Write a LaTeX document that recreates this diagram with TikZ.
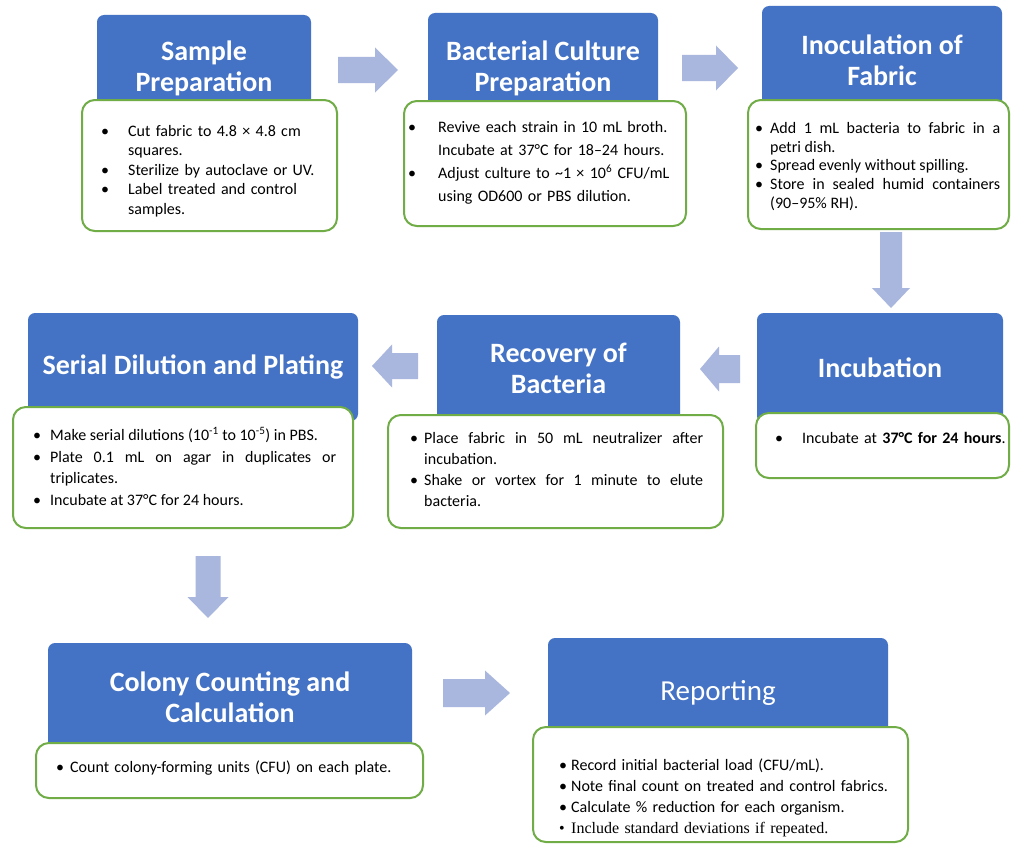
\documentclass[tikz,border=0pt]{standalone}
\usepackage{fontspec}
\setmainfont{Carlito}
\newfontfamily\timesFont{Liberation Serif}
\usetikzlibrary{positioning}
\tikzstyle{sheet} = [x = 1pt, y = -1pt]
\definecolor{titleColor}{RGB}{68,114,196}
\definecolor{frameColor}{RGB}{112,173,71}
\definecolor{arrowColor}{RGB}{169,182,222}
\tikzstyle{titleStyle} = [fill=titleColor, rounded corners=.25cm, inner sep=0pt, text=white, align=center, font=\fontsize{28}{31}\selectfont\bfseries]
\tikzstyle{frameStyle} = [draw=frameColor, fill=white, line width=2pt, rounded corners=.45cm, inner sep=0pt]
\tikzstyle{listText} = [anchor=north west, inner sep=0pt, font=\fontsize{16}{19.5}\selectfont]
\tikzstyle{flowArrow} = [fill=arrowColor]
\newcommand{\titleBox}[6]{\node [titleStyle, minimum width=#4-#2, minimum height=#5-#3] (#1) at ({(#2+#4)/2}, {(#3+#5)/2}) {#6};}
\newcommand{\frameBox}[5]{\node [frameStyle, minimum width=#4-#2, minimum height=#5-#3] (#1) at ({(#2+#4)/2}, {(#3+#5)/2}) {};}
\newcommand{\listItem}[2]{\noindent\hangindent=#1pt\hangafter=1\makebox[#1pt][l]{\textbullet}#2\par}
% tail x, tail y, angle, length, half shaft, half head, head length
\newcommand{\blockArrow}[7]{\fill [flowArrow, shift={(#1,#2)}, rotate=#3] (0,-#5) -- (#4-#7,-#5) -- (#4-#7,-#6) -- (#4,0) -- (#4-#7,#6) -- (#4-#7,#5) -- (0,#5) -- cycle;}

\begin{document}
\begin{tikzpicture}[sheet]
  \fill [white] (0,0) rectangle (1011,843);
  \useasboundingbox (0,0) rectangle (1011,843);

  % titles
  \titleBox{sampleTitle}{97}{15}{311}{121}{Sample\\Preparation}
  \titleBox{cultureTitle}{428}{13}{658}{123}{Bacterial Culture\\Preparation}
  \titleBox{inoculationTitle}{762}{6}{1002}{114}{Inoculation of\\Fabric}
  \titleBox{incubationTitle}{757}{313}{1003}{423}{Incubation}
  \titleBox{recoveryTitle}{437}{315}{680}{421}{Recovery of\\Bacteria}
  \titleBox{dilutionTitle}{28}{313}{358}{421}{Serial Dilution and Plating}
  \titleBox{countingTitle}{48}{643}{412}{751}{Colony Counting and\\Calculation}
  \titleBox{reportingTitle}{548}{638}{888}{748}{\mdseries\fontsize{29}{31}\selectfont Reporting}

  % frames
  \frameBox{sampleFrame}{82}{100}{337}{231}
  \frameBox{cultureFrame}{404}{101}{686}{226}
  \frameBox{inoculationFrame}{748}{100}{1009}{229}
  \frameBox{incubationFrame}{756}{413}{1009}{478}
  \frameBox{recoveryFrame}{388}{415}{723}{528}
  \frameBox{dilutionFrame}{13}{407}{353}{528}
  \frameBox{countingFrame}{36}{743}{423}{798}
  \frameBox{reportingFrame}{533}{727}{908}{842}

  % lists
  \node [listText, text width=230pt, align=left] (sampleList) at (101,125)
    {\listItem{27}{Cut fabric to 4.8 × 4.8 cm\newline squares.}\listItem{27}{Sterilize by autoclave or UV.}\listItem{27}{Label treated and control\newline samples.}};
  \node [listText, text width=270pt, align=left, font=\fontsize{16}{23}\selectfont] (cultureList) at (408,121)
    {\listItem{30}{Revive each strain in 10 mL broth.\newline Incubate at 37°C for 18--24 hours.}\listItem{30}{Adjust culture to \textasciitilde1 × 10\textsuperscript{6} CFU/mL\newline using OD600 or PBS dilution.}};
  \node [listText, text width=245pt, align=justify, font=\fontsize{16}{18.7}\selectfont] (inoculationList) at (755,122)
    {\listItem{15}{Add 1 mL bacteria to fabric in a\linebreak petri dish.}\listItem{15}{Spread evenly without spilling.}\listItem{15}{Store in sealed humid containers\linebreak (90--95\% RH).}};
  \node [listText, text width=260pt, align=left] (incubationList) at (775,432)
    {\listItem{27}{Incubate at \textbf{37°C for 24 hours}.}};
  \node [listText, text width=293pt, align=justify, font=\fontsize{16}{21}\selectfont] (recoveryList) at (410,432)
    {\listItem{14}{Place fabric in 50 mL neutralizer after\linebreak incubation.}\listItem{14}{Shake or vortex for 1 minute to elute\linebreak bacteria.}};
  \node [listText, text width=303pt, align=justify, font=\fontsize{16}{21.5}\selectfont] (dilutionList) at (33,427)
    {\listItem{17}{Make serial dilutions (10\textsuperscript{-1} to 10\textsuperscript{-5}) in PBS.}\listItem{17}{Plate 0.1 mL on agar in duplicates or\linebreak triplicates.}\listItem{17}{Incubate at 37°C for 24 hours.}};
  \node [listText, text width=360pt, align=left] (countingList) at (56,761)
    {\listItem{14}{Count colony-forming units (CFU) on each plate.}};
  \node [listText, text width=340pt, align=left, font=\fontsize{16}{20.7}\selectfont] (reportingList) at (559,759)
    {\listItem{12}{Record initial bacterial load (CFU/mL).}\listItem{12}{Note final count on treated and control fabrics.}\listItem{12}{Calculate \% reduction for each organism.}{\timesFont\listItem{12}{Include standard deviations if repeated.}}};

  % arrows
  \blockArrow{338}{70}{0}{60}{13}{22.5}{23}
  \blockArrow{682}{68}{0}{56}{13}{22.5}{22}
  \blockArrow{891}{232}{-90}{76}{11}{19}{20}
  \blockArrow{740}{369}{180}{40}{14}{22.5}{19}
  \blockArrow{418}{366}{180}{46}{13}{21.5}{20}
  \blockArrow{208}{556}{-90}{62}{12.5}{20.5}{21}
  \blockArrow{443}{693}{0}{67}{14}{22.5}{25}
\end{tikzpicture}
\end{document}
